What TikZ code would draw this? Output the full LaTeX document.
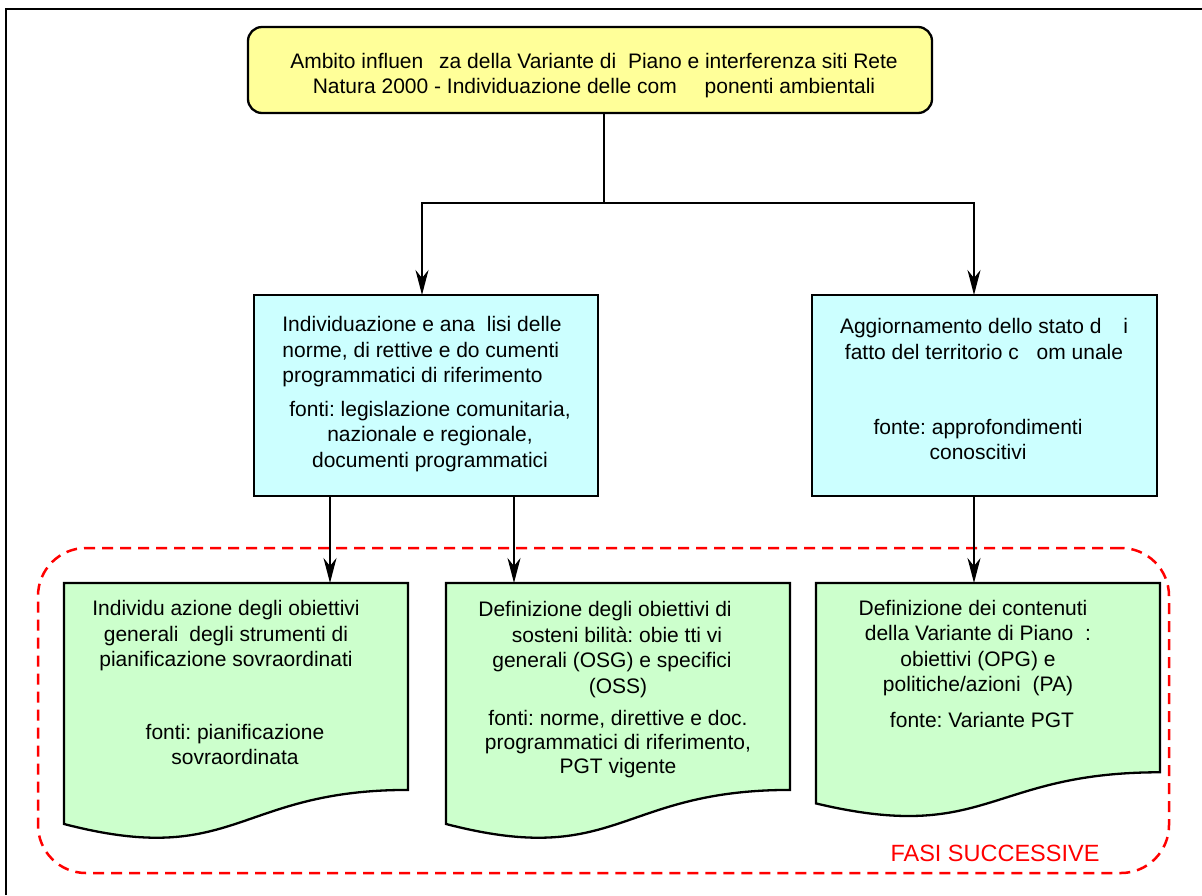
\documentclass[tikz,border=0pt]{standalone}
\usepackage{fontspec}
\setmainfont{Liberation Sans}
\usetikzlibrary{arrows.meta,calc}
\definecolor{yel}{HTML}{FFFF99}
\definecolor{cya}{HTML}{CCFFFF}
\definecolor{grn}{HTML}{CCFFCC}
\definecolor{rd}{HTML}{FF0000}
\frenchspacing
\newcommand\docshape[1]{%
  \draw[boxline, fill=grn] (#1.north west) -- (#1.north east)
    -- ($(#1.north east)!0.802!(#1.south east)$)
    .. controls ($(#1.north)!0.802!(#1.south)$) and ($(#1.north)!1.1075!(#1.south)$)
    .. ($(#1.north west)!0.934!(#1.south west)$) -- cycle;}
\begin{document}
\begin{tikzpicture}[x=1pt,y=-1pt,
  boxline/.style={draw=black, line width=2.3pt, line join=miter},
  procbox/.style={boxline, inner sep=0pt, outer sep=0pt},
  docbox/.style={draw=none, inner sep=0pt, outer sep=0pt, anchor=north west, minimum width=344pt},
  txt/.style={font=\fontsize{21}{25.5}\selectfont, align=center, inner sep=0pt},
  conn/.style={line width=2pt},
  arr/.style={conn, -{Stealth[length=25pt, width=13pt, inset=8pt]}},
]
\useasboundingbox (0,0) rectangle (1202,895);
\draw[line width=1.5pt] (6,895) -- (6,9) -- (1202,9);

% dashed group frame
\node[draw=rd, dash pattern=on 11pt off 7pt, line width=2.5pt, rounded corners=48pt,
      minimum width=1131pt, minimum height=325pt, inner sep=0pt] (fasi) at (603.5,710.5) {};
\node[font=\fontsize{23.5}{28}\selectfont, text=rd, inner sep=0pt] (fasilbl) at (995,853) {FASI SUCCESSIVE};

% top box
\node[procbox, fill=yel, rounded corners=14pt, minimum width=684pt, minimum height=86pt] (top) at (590,70) {};
\node[txt] (toptxt) at (594,75.5) {Ambito influen\hspace{10pt} za della Variante di\hspace{6pt} Piano e interferenza siti Rete\\Natura 2000 - Individuazione delle com\hspace{22pt} ponenti ambientali};

% middle boxes
\node[procbox, fill=cya, minimum width=344pt, minimum height=201pt] (lbox) at (426,395.5) {};
\node[txt, align=left] (ltxt1) at (422,352) {Individuazione e ana\hspace{6pt} lisi delle\\norme, di rettive e do cumenti\\programmatici di riferimento};
\node[txt] (ltxt2) at (430,436.5) {fonti: legislazione comunitaria,\\nazionale e regionale,\\documenti programmatici};

\node[procbox, fill=cya, minimum width=345pt, minimum height=201pt] (rbox) at (984.5,395.5) {};
\node[txt] (rtxt1) at (984,339) {Aggiornamento dello stato d\hspace{16pt} i\\fatto del territorio c\hspace{12pt} om unale};
\node[txt] (rtxt2) at (978,439.5) {fonte: approfondimenti\\conoscitivi};

% documents
\node[docbox, minimum height=258pt] (d1) at (64,583) {};
\docshape{d1}
\node[docbox, minimum height=258pt] (d2) at (446,583) {};
\docshape{d2}
\node[docbox, minimum height=236pt] (d3) at (816,583) {};
\docshape{d3}

\node[txt] (d1t1) at (226,636) {Individu azione degli obiettivi\\generali\hspace{5pt} degli strumenti di\\pianificazione sovraordinati};
\node[txt] (d1t2) at (235,744.5) {fonti: pianificazione\\sovraordinata};

\node[txt] (d2t1) at (612,649.5) {Definizione degli obiettivi di\kern14pt\\\kern10pt sosteni bilità: obie tti vi\\generali (OSG) e specifici\\\kern12pt(OSS)};
\node[txt, font=\fontsize{21}{24}\selectfont] (d2t2) at (618,744) {fonti: norme, direttive e doc.\\programmatici di riferimento,\\PGT vigente};

\node[txt] (d3t1) at (978,648) {Definizione dei contenuti\kern10pt\\della Variante di Piano\hspace{6pt} :\\obiettivi (OPG) e\\politiche/azioni\hspace{6pt} (PA)};
\node[txt] (d3t2) at (982,720) {fonte: Variante PGT};

% connectors
\coordinate (j) at (604,203);
\coordinate (jl) at (422,203);
\coordinate (jr) at (974,203);
\draw[conn] (top.south -| j) -- (j);
\draw[arr] (j) -- (jl) -- (lbox.north -| jl);
\draw[arr] (j) -- (jr) -- (rbox.north -| jr);
\coordinate (a1) at (330,0);
\coordinate (a2) at (514,0);
\coordinate (a3) at (974,0);
\draw[arr] (lbox.south -| a1) -- (d1.north -| a1);
\draw[arr] (lbox.south -| a2) -- (d2.north -| a2);
\draw[arr] (rbox.south -| a3) -- (d3.north -| a3);
\end{tikzpicture}
\end{document}
